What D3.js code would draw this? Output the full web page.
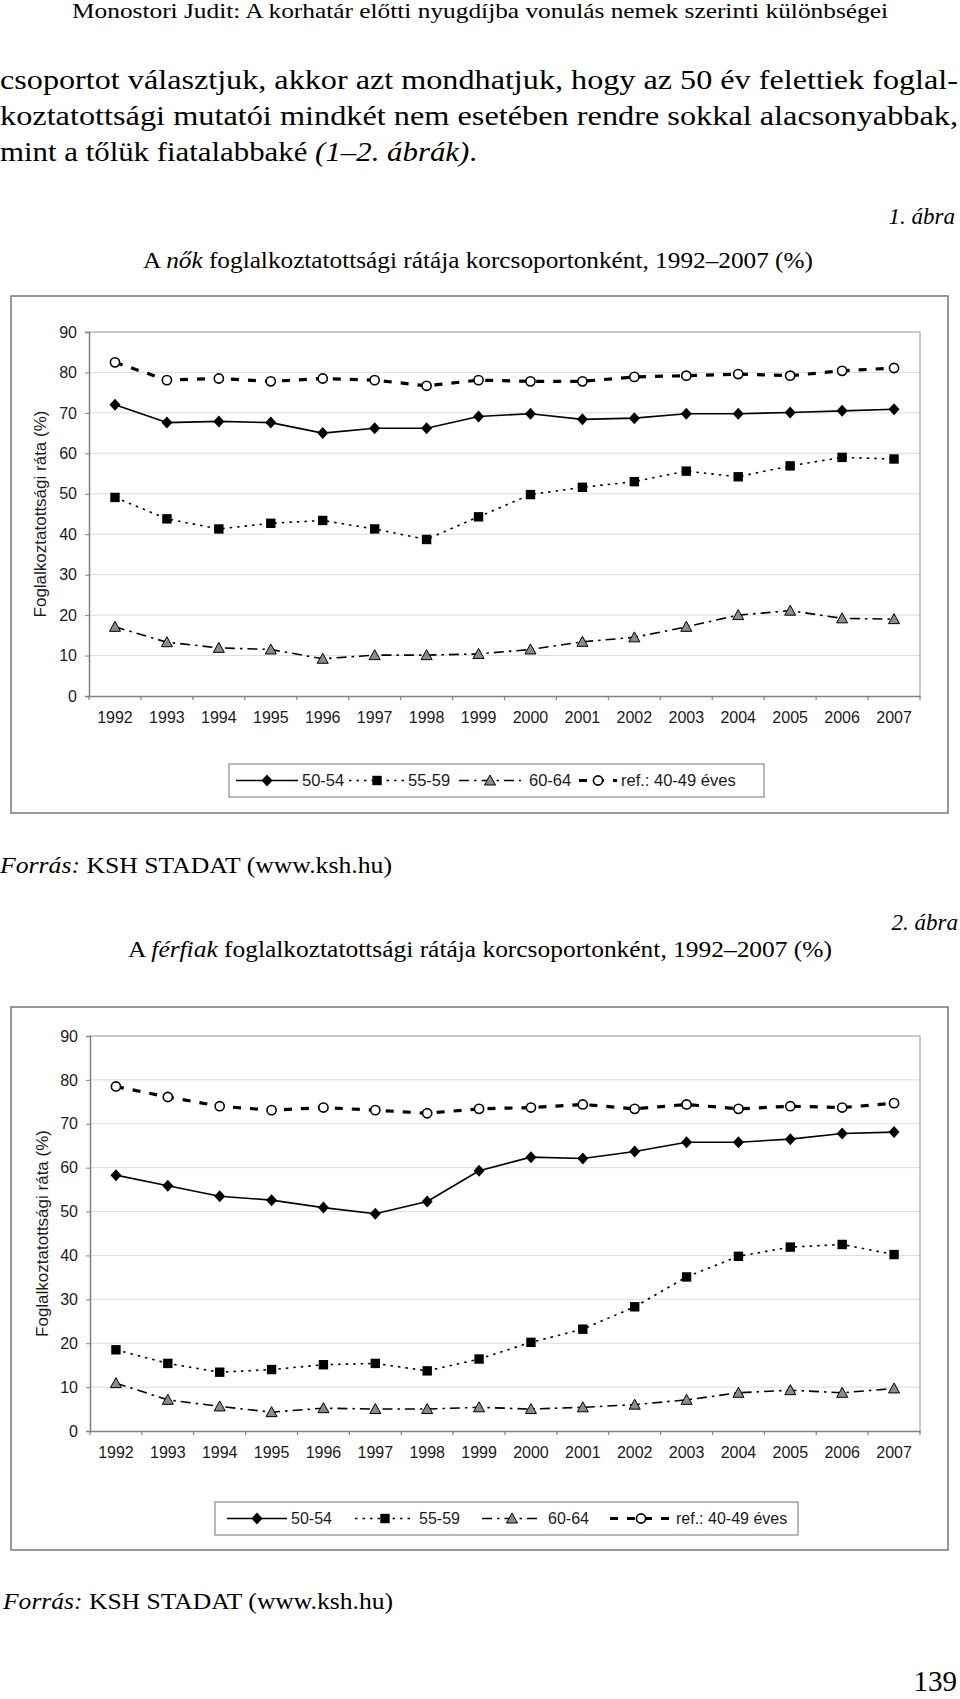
<!DOCTYPE html>
<html><head><meta charset="utf-8">
<script src="https://cdn.jsdelivr.net/npm/d3@7"></script>
<style>
html,body{margin:0;padding:0;background:#fff;}
svg{display:block;}
</style></head>
<body>
<svg id="page" width="960" height="1699"></svg>
<script>
// ---------- data ----------
const years = ["1992","1993","1994","1995","1996","1997","1998","1999","2000","2001","2002","2003","2004","2005","2006","2007"];
const yTicks = [0,10,20,30,40,50,60,70,80,90];
const seriesNames = ["50-54","55-59","60-64","ref.: 40-49 éves"];

const women5054 = [72.0,67.6,67.9,67.6,65.0,66.2,66.2,69.1,69.8,68.4,68.7,69.8,69.8,70.1,70.5,70.9];
const women5559 = [49.1,43.8,41.3,42.7,43.4,41.3,38.7,44.3,49.8,51.6,53.0,55.6,54.2,56.9,59.0,58.6];
const women6064 = [17.1,13.3,11.9,11.5,9.2,10.1,10.1,10.4,11.5,13.4,14.5,17.1,20.0,21.1,19.2,19.0];
const womenRef  = [82.5,78.1,78.5,77.8,78.5,78.1,76.7,78.1,77.8,77.8,78.9,79.2,79.6,79.2,80.4,81.1];

const men5054 = [58.3,55.9,53.5,52.6,50.9,49.5,52.3,59.3,62.4,62.1,63.7,65.8,65.8,66.5,67.8,68.1];
const men5559 = [18.5,15.4,13.4,14.0,15.1,15.4,13.7,16.4,20.2,23.2,28.3,35.1,39.8,41.9,42.5,40.2];
const men6064 = [10.9,7.1,5.6,4.3,5.2,5.0,5.0,5.4,5.0,5.4,6.0,7.1,8.7,9.3,8.7,9.7];
const menRef  = [78.5,76.1,74.0,73.1,73.7,73.1,72.4,73.4,73.7,74.4,73.4,74.4,73.4,74.0,73.7,74.7];

const yAxisTitle = "Foglalkoztatottsági ráta (%)";

// ---------- page ----------
const svg = d3.select("#page");
const SERIF = "'Liberation Serif','Times New Roman',Times,serif";
const SANS = "'Liberation Sans',Arial,sans-serif";

function txt(x, y, s, opt) {
  const t = svg.append("text").attr("x", x).attr("y", y)
    .attr("font-family", opt.family || SERIF).attr("font-size", opt.size)
    .attr("fill", "#000").attr("text-anchor", opt.anchor || "start");
  if (opt.italic) t.attr("font-style", "italic");
  if (opt.len) t.attr("textLength", opt.len).attr("lengthAdjust", "spacingAndGlyphs");
  if (Array.isArray(s)) {
    s.forEach(p => { const ts = t.append("tspan").text(p[0]); if (p[1]) ts.attr("font-style", "italic"); });
  } else t.text(s);
  return t;
}

txt(480, 18, "Monostori Judit: A korhatár előtti nyugdíjba vonulás nemek szerinti különbségei", {size: 21, anchor: "middle", len: 816});
txt(0, 89, "csoportot választjuk, akkor azt mondhatjuk, hogy az 50 év felettiek foglal-", {size: 27, len: 958});
txt(0, 125, "koztatottsági mutatói mindkét nem esetében rendre sokkal alacsonyabbak,", {size: 27, len: 958});
txt(0, 161, [["mint a tőlük fiatalabbaké ", false], ["(1–2. ábrák)", true], [".", false]], {size: 27, len: 477});

txt(955, 224, "1. ábra", {size: 23, anchor: "end", italic: true});
txt(478, 268, [["A ", false], ["nők", true], [" foglalkoztatottsági rátája korcsoportonként, 1992–2007 (%)", false]], {size: 23, anchor: "middle", len: 670});
txt(0, 873, [["Forrás:", true], [" KSH STADAT (www.ksh.hu)", false]], {size: 24, len: 392});

txt(958, 930, "2. ábra", {size: 23, anchor: "end", italic: true});
txt(480, 957, [["A ", false], ["férfiak", true], [" foglalkoztatottsági rátája korcsoportonként, 1992–2007 (%)", false]], {size: 23, anchor: "middle", len: 704});
txt(3, 1609, [["Forrás:", true], [" KSH STADAT (www.ksh.hu)", false]], {size: 24, len: 390});
txt(957, 1691, "139", {size: 29, anchor: "end"});

// ---------- series styles ----------
const styles = [
  {dash: null, width: 1.6, marker: "diamond"},
  {dash: "2.5,5", width: 1.6, marker: "square"},
  {dash: "10,5,2.5,5", width: 1.6, marker: "triangle"},
  {dash: "8,9", width: 3.2, marker: "circle"}
];

function drawMarker(g, type, x, y) {
  if (type === "diamond") {
    g.append("path").attr("d", `M${x},${y-6}L${x+5.5},${y}L${x},${y+6}L${x-5.5},${y}Z`).attr("fill", "#000");
  } else if (type === "square") {
    g.append("rect").attr("x", x-4.7).attr("y", y-4.7).attr("width", 9.4).attr("height", 9.4).attr("fill", "#000");
  } else if (type === "triangle") {
    g.append("path").attr("d", `M${x},${y-5.5}L${x+5.5},${y+4.5}L${x-5.5},${y+4.5}Z`)
      .attr("fill", "#8c8c8c").attr("stroke", "#000").attr("stroke-width", 1);
  } else {
    g.append("circle").attr("cx", x).attr("cy", y).attr("r", 4.6)
      .attr("fill", "#fff").attr("stroke", "#000").attr("stroke-width", 1.6);
  }
}

function drawChart(cfg, seriesList) {
  const g = svg.append("g");
  // outer box
  g.append("rect").attr("x", cfg.box[0]).attr("y", cfg.box[1])
    .attr("width", cfg.box[2]-cfg.box[0]).attr("height", cfg.box[3]-cfg.box[1])
    .attr("fill", "none").attr("stroke", "#777").attr("stroke-width", 1.5);

  const x = d3.scaleBand().domain(years).range([cfg.plotL, cfg.plotR]).padding(0);
  const y = d3.scaleLinear().domain([0, 90]).range([cfg.y0, cfg.y90]);
  const cx = d => x(d) + x.bandwidth()/2;

  // gridlines
  g.append("g").selectAll("line").data(yTicks.filter(v => v > 0)).join("line")
    .attr("x1", cfg.plotL).attr("x2", cfg.plotR).attr("y1", d => y(d)).attr("y2", d => y(d))
    .attr("stroke", "#dcdcdc").attr("stroke-width", 1);
  // plot border top/right
  g.append("path").attr("d", `M${cfg.plotL},${cfg.y90}H${cfg.plotR}V${cfg.y0}`)
    .attr("fill", "none").attr("stroke", "#a6a6a6").attr("stroke-width", 1.2);

  // y axis
  const ya = g.append("g").attr("transform", `translate(${cfg.plotL},0)`)
    .call(d3.axisLeft(y).tickValues(yTicks).tickSize(4).tickPadding(8).tickFormat(d3.format("d")));
  ya.select(".domain").attr("stroke", "#808080").attr("stroke-width", 1.5);
  ya.selectAll(".tick line").attr("stroke", "#808080");
  ya.selectAll("text").attr("font-family", SANS).attr("font-size", 16).attr("fill", "#1a1a1a");

  // x axis
  const xa = g.append("g").attr("transform", `translate(0,${cfg.y0})`)
    .call(d3.axisBottom(x).tickSize(0).tickPadding(16));
  xa.select(".domain").attr("stroke", "#808080").attr("stroke-width", 1.5);
  xa.selectAll("text").attr("font-family", SANS).attr("font-size", 16).attr("fill", "#1a1a1a");
  g.append("g").selectAll("line").data(d3.range(years.length + 1)).join("line")
    .attr("x1", i => cfg.plotL + i*x.bandwidth()).attr("x2", i => cfg.plotL + i*x.bandwidth())
    .attr("y1", cfg.y0).attr("y2", cfg.y0 + 4).attr("stroke", "#808080").attr("stroke-width", 1.2);

  // y title
  g.append("text").attr("transform", `translate(${cfg.ytX},${(cfg.y0+cfg.y90)/2}) rotate(-90)`)
    .attr("text-anchor", "middle").attr("dy", "0.35em")
    .attr("font-family", SANS).attr("font-size", 17).attr("fill", "#1a1a1a").text(yAxisTitle);

  // series
  const line = d3.line().x((d, i) => cx(years[i])).y(d => y(d));
  seriesList.forEach((vals, si) => {
    const st = styles[si];
    const p = g.append("path").attr("d", line(vals)).attr("fill", "none")
      .attr("stroke", "#000").attr("stroke-width", st.width).attr("stroke-linejoin", "round");
    if (st.dash) p.attr("stroke-dasharray", st.dash);
  });
  seriesList.forEach((vals, si) => {
    vals.forEach((v, i) => drawMarker(g, styles[si].marker, cx(years[i]), y(v)));
  });

  // legend
  const L = cfg.legend;
  g.append("rect").attr("x", L.box[0]).attr("y", L.box[1]).attr("width", L.box[2]-L.box[0])
    .attr("height", L.box[3]-L.box[1]).attr("fill", "#fff").attr("stroke", "#8a8a8a").attr("stroke-width", 1.2);
  const ly = (L.box[1] + L.box[3]) / 2;
  seriesNames.forEach((name, si) => {
    const it = L.items[si];
    const st = styles[si];
    const p = g.append("line").attr("x1", it[0]).attr("x2", it[1]).attr("y1", ly).attr("y2", ly)
      .attr("stroke", "#000").attr("stroke-width", st.width);
    if (st.dash) p.attr("stroke-dasharray", st.dash);
    drawMarker(g, st.marker, (it[0] + it[1]) / 2, ly);
    g.append("text").attr("x", it[2]).attr("y", ly + 5.5).attr("font-family", SANS)
      .attr("font-size", L.font).attr("fill", "#1a1a1a").text(name);
  });
}

drawChart({
  box: [11, 296, 948, 813], plotL: 89, plotR: 920, y0: 696, y90: 332, ytX: 40,
  legend: {box: [229, 764, 764, 797], font: 16.5,
    items: [[236, 298, 302], [349, 405, 408], [459, 521, 529], [579, 617, 621]]}
}, [women5054, women5559, women6064, womenRef]);

drawChart({
  box: [11, 1007, 948, 1550], plotL: 90, plotR: 920, y0: 1431, y90: 1036, ytX: 42,
  legend: {box: [215, 1502, 798, 1535], font: 16,
    items: [[227, 287, 291], [355, 415, 419], [482, 542, 548], [610, 672, 676]]}
}, [men5054, men5559, men6064, menRef]);
</script>
</body></html>
